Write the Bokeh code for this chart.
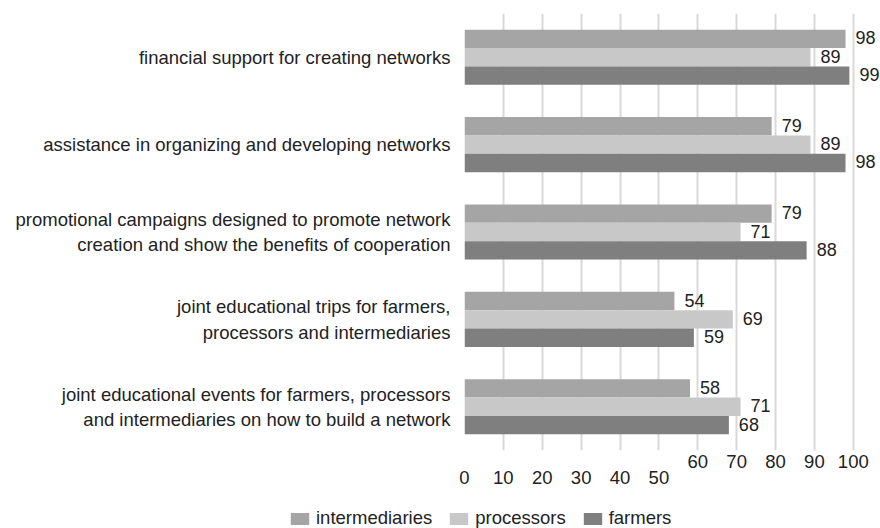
from bokeh.plotting import figure
from bokeh.layouts import column
from bokeh.models import (FactorRange, LinearAxis, FixedTicker, Legend, LegendItem,
                          ColumnDataSource, Range1d)
from bokeh.transform import dodge
from bokeh.core.properties import value
from bokeh.embed import file_html
from bokeh.resources import INLINE

categories = [
    "financial support for creating networks",
    "assistance in organizing and developing networks",
    "promotional campaigns designed to promote network\ncreation and show the benefits of cooperation",
    "joint educational trips for farmers,\nprocessors and intermediaries",
    "joint educational events for farmers, processors\nand intermediaries on how to build a network",
]
intermediaries = [98, 79, 79, 54, 58]
processors = [89, 89, 71, 69, 71]
farmers = [99, 98, 88, 59, 68]
series_names = ["intermediaries", "processors", "farmers"]
colors = ["#a5a5a5", "#c8c8c8", "#7f7f7f"]
ticks_upper = [60, 70, 80, 90, 100]
ticks_lower = [0, 10, 20, 30, 40, 50]

FONT = "Liberation Sans"
FS = "18.5px"
TXT = "#222222"

src = ColumnDataSource(dict(
    cat=categories,
    intermediaries=intermediaries,
    processors=processors,
    farmers=farmers,
    intermediaries_s=[str(v) for v in intermediaries],
    processors_s=[str(v) for v in processors],
    farmers_s=[str(v) for v in farmers],
))

p = figure(width=880, height=505, y_range=FactorRange(factors=categories[::-1]),
           x_range=Range1d(0, 107), output_backend="svg", toolbar_location=None,
           min_border_left=464, min_border_right=0, min_border_top=13,
           min_border_bottom=55)
p.outline_line_color = None
p.frame_align = False

offsets = [0.21, 0.0, -0.21]
for name, col, off in zip(series_names, colors, offsets):
    p.hbar(y=dodge("cat", off, range=p.y_range), left=0, right=name, height=0.21,
           source=src, fill_color=col, line_color=None)
    p.text(x=name, y=dodge("cat", off, range=p.y_range), text=name + "_s", source=src,
           x_offset=10, y_offset=-1, text_baseline="middle", text_align="left",
           text_font=value(FONT), text_font_size="18px", text_color=TXT)

# grid
p.ygrid.grid_line_color = None
p.xgrid.ticker = FixedTicker(ticks=ticks_lower + ticks_upper)
p.xgrid.grid_line_color = "#d9d9d9"
p.xgrid.grid_line_width = 2

# y axis
p.yaxis.axis_line_color = None
p.yaxis.major_tick_line_color = None
p.yaxis.minor_tick_line_color = None
p.yaxis.major_tick_out = 0
p.yaxis.major_tick_in = 0
p.yaxis.major_label_standoff = 14
p.yaxis.major_label_text_font = FONT
p.yaxis.major_label_text_font_size = FS
p.yaxis.major_label_text_color = TXT

# x axes (staggered labels)
def style_axis(ax, standoff):
    ax.axis_line_color = None
    ax.major_tick_line_color = None
    ax.minor_tick_line_color = None
    ax.major_tick_out = 0
    ax.major_tick_in = 0
    ax.major_label_standoff = standoff
    ax.major_label_text_font = FONT
    ax.major_label_text_font_size = FS
    ax.major_label_text_color = TXT

p.xaxis.ticker = FixedTicker(ticks=ticks_upper)
style_axis(p.xaxis[0], 4)
ax2 = LinearAxis(ticker=FixedTicker(ticks=ticks_lower))
style_axis(ax2, 0)
p.add_layout(ax2, "below")

# legend strip (separate small figure below the chart)
pl = figure(width=880, height=23, x_range=Range1d(0, 1), y_range=Range1d(0, 1),
            output_backend="svg", toolbar_location=None,
            x_axis_location=None, y_axis_location=None,
            min_border_left=0, min_border_right=0, min_border_top=0, min_border_bottom=0)
pl.frame_align = False
pl.grid.visible = False
pl.outline_line_color = None
legend_renderers = []
for name, col in zip(series_names, colors):
    # zero-size proxy bar outside the visible range, only used for the legend swatch
    legend_renderers.append(pl.hbar(y=[-5], left=[0], right=[0], height=0.2,
                                    fill_color=col, line_color=None))
legend = Legend(items=[LegendItem(label=n, renderers=[r], index=0)
                       for n, r in zip(series_names, legend_renderers)],
                orientation="horizontal", location=(288, -1),
                border_line_color=None, background_fill_alpha=0, padding=0, margin=0,
                spacing=15, glyph_width=23, glyph_height=15, label_standoff=5,
                label_text_font=FONT, label_text_font_size=FS, label_text_color=TXT,
                label_height=18)
pl.add_layout(legend)

layout = column(p, pl, spacing=0)
open("out.html", "w").write(file_html(layout, INLINE))
